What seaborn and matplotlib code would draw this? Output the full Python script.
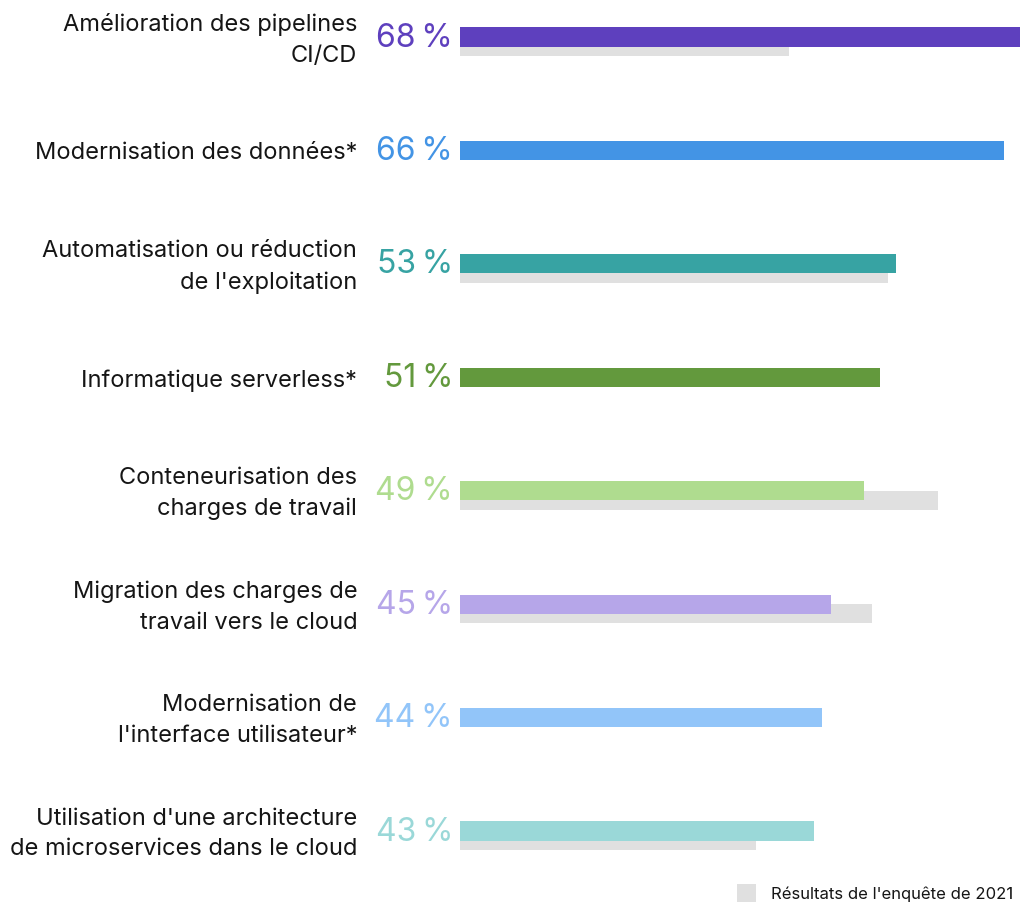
import numpy as np
import pandas as pd
import matplotlib.pyplot as plt
from matplotlib.patches import Patch
import seaborn as sns

categories = [
    "Amélioration des pipelines\nCI/CD",
    "Modernisation des données*",
    "Automatisation ou réduction\nde l'exploitation",
    "Informatique serverless*",
    "Conteneurisation des\ncharges de travail",
    "Migration des charges de\ntravail vers le cloud",
    "Modernisation de\nl'interface utilisateur*",
    "Utilisation d'une architecture\nde microservices dans le cloud",
]
values_2022 = [68, 66, 53, 51, 49, 45, 44, 43]
values_2021 = [40, np.nan, 52, np.nan, 58, 50, np.nan, 36]
colors = ["#5E40BE", "#4394E5", "#37A3A3", "#63993D",
          "#AFDC8F", "#B6A6E9", "#92C5F9", "#9AD8D8"]
value_labels = ["68\u2009%", "66\u2009%", "53\u2009%", "51\u2009%",
                "49\u2009%", "45\u2009%", "44\u2009%", "43\u2009%"]
legend_label = "Résultats de l'enquête de 2021"

sns.set_style("white")
plt.rcParams["font.family"] = ["Inter", "DejaVu Sans"]

df = pd.DataFrame({"cat": categories, "pos": np.arange(len(categories)),
                   "v22": values_2022, "v21": values_2021})
df["pos21"] = df["pos"] + 0.084
old = df.dropna(subset=["v21"])

fig = plt.figure(figsize=(10.23, 9.07), dpi=100)
ax = fig.add_axes([460 / 1023, 0, 560 / 1023, 1])

# 2021 bars behind, shifted down
sns.barplot(data=old, x="v21", y="pos21", orient="y", native_scale=True,
            color="#E0E0E0", saturation=1, width=0.168, errorbar=None,
            linewidth=0, ax=ax, zorder=1)
# 2022 bars
sns.barplot(data=df, x="v22", y="pos", orient="y", native_scale=True,
            hue="cat", palette=colors, saturation=1, width=0.168,
            errorbar=None, linewidth=0, legend=False, ax=ax, zorder=2)

ax.set_xlim(0, 68)
ax.set_ylim(7.670, -0.326)
ax.set_yticks(df["pos"] + 0.027)
ax.set_yticklabels(categories, fontsize=17, color="#151515", linespacing=1.5,
                   va="center")
ax.tick_params(axis="y", length=0, pad=74)
ax.set_xticks([])
ax.set_xlabel("")
ax.set_ylabel("")
sns.despine(ax=ax, left=True, bottom=True)

for p, lab, c in zip(df["pos"], value_labels, colors):
    ax.text(-0.85, p + 0.01, lab, ha="right", va="center", fontsize=23,
            color=c, clip_on=False)

fig.legend(handles=[Patch(facecolor="#E0E0E0", edgecolor="none")],
           labels=[legend_label], loc="lower right",
           bbox_to_anchor=(1013 / 1023, 5 / 907), frameon=False, fontsize=12,
           handlelength=1.1, handleheight=1.3, handletextpad=0.9,
           borderpad=0, borderaxespad=0, labelcolor="#151515")

fig.savefig("out.png", dpi=100)
